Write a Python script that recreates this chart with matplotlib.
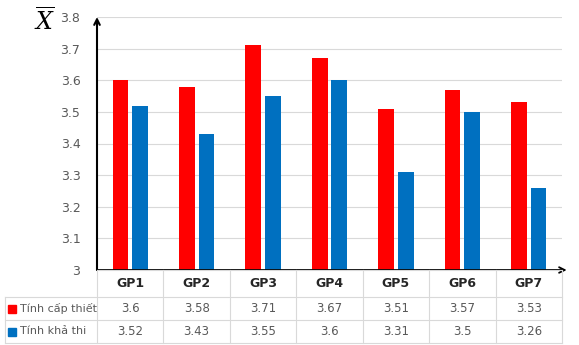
import matplotlib
matplotlib.use("Agg")
import matplotlib.pyplot as plt
from matplotlib.patches import Rectangle
from matplotlib.lines import Line2D
import numpy as np

categories = ["GP1", "GP2", "GP3", "GP4", "GP5", "GP6", "GP7"]
can_thiet = [3.6, 3.58, 3.71, 3.67, 3.51, 3.57, 3.53]
kha_thi = [3.52, 3.43, 3.55, 3.6, 3.31, 3.5, 3.26]
series_names = ["Tính cấp thiết", "Tính khả thi"]
colors = ["#FF0000", "#0070C0"]
yticks = [3, 3.1, 3.2, 3.3, 3.4, 3.5, 3.6, 3.7, 3.8]

W, H = 579, 345
fig = plt.figure(figsize=(W / 100, H / 100), dpi=100)
axl, axr, axt, axb = 97, 562, 17, 270
ax = fig.add_axes([axl / W, 1 - axb / H, (axr - axl) / W, (axb - axt) / H])

x = np.arange(len(categories))
bw = 0.235
ax.bar(x - bw / 2 - 0.03, np.array(can_thiet) - 3, bw, bottom=3, color=colors[0], zorder=3)
ax.bar(x + bw / 2 + 0.03, np.array(kha_thi) - 3, bw, bottom=3, color=colors[1], zorder=3)

ax.set_xlim(-0.5, len(categories) - 0.5)
ax.set_ylim(3, 3.8)
ax.set_yticks(yticks)
ax.set_yticklabels([f"{v:g}" for v in yticks], color="#595959", fontsize=9)
ax.tick_params(axis="y", length=0, pad=12)
ax.set_xticks([])
ax.grid(axis="y", color="#D9D9D9", linewidth=0.8, zorder=0)
for s in ax.spines.values():
    s.set_visible(False)

# axes arrows
ax.annotate("", xy=(0, 1.0), xytext=(0, 0), xycoords="axes fraction",
            arrowprops=dict(arrowstyle="->", color="black", lw=1.5, shrinkA=0, shrinkB=0), annotation_clip=False)
ax.annotate("", xy=(1.01, 0), xytext=(0, 0), xycoords="axes fraction",
            arrowprops=dict(arrowstyle="->", color="black", lw=1.3, shrinkA=0, shrinkB=0), annotation_clip=False)

fig.text(45 / W, 1 - 22 / H, r"$\overline{X}$", fontsize=17, ha="center", va="center",
         family="serif", math_fontfamily="dejavuserif")

# table
row_edges_px = [270, 297, 320, 343]
col_edges_px = [0] + [axl + (axr - axl) * i / 7 for i in range(8)]
gc = "#D9D9D9"
def fy(p):
    return 1 - p / H
def fx(p):
    return p / W
# horizontal lines
for i, yp in enumerate(row_edges_px):
    x0 = axl if i == 0 else 5
    fig.add_artist(Line2D([fx(x0), fx(axr)], [fy(yp), fy(yp)], color=gc, lw=0.8))
# vertical lines
for j, xp in enumerate(col_edges_px):
    if j == 0:
        xp = 5
        y0 = row_edges_px[1]
    else:
        y0 = row_edges_px[0]
    fig.add_artist(Line2D([fx(xp), fx(xp)], [fy(y0), fy(row_edges_px[-1])], color=gc, lw=0.8))

for j, c in enumerate(categories):
    xc = (col_edges_px[j + 1] + col_edges_px[j + 2]) / 2
    fig.text(fx(xc), fy((row_edges_px[0] + row_edges_px[1]) / 2), c, ha="center", va="center",
             fontsize=9, fontweight="bold", color="#262626")
    for r, vals in enumerate([can_thiet, kha_thi]):
        fig.text(fx(xc), fy((row_edges_px[r + 1] + row_edges_px[r + 2]) / 2), f"{vals[j]:g}",
                 ha="center", va="center", fontsize=8.5, color="#595959")

for r, name in enumerate(series_names):
    yc = (row_edges_px[r + 1] + row_edges_px[r + 2]) / 2
    fig.add_artist(Rectangle((fx(8), fy(yc + 4)), 8 / W, 8 / H, color=colors[r]))
    fig.text(fx(20), fy(yc), name, ha="left", va="center", fontsize=8, color="#595959")

fig.savefig("out.png", dpi=100)
